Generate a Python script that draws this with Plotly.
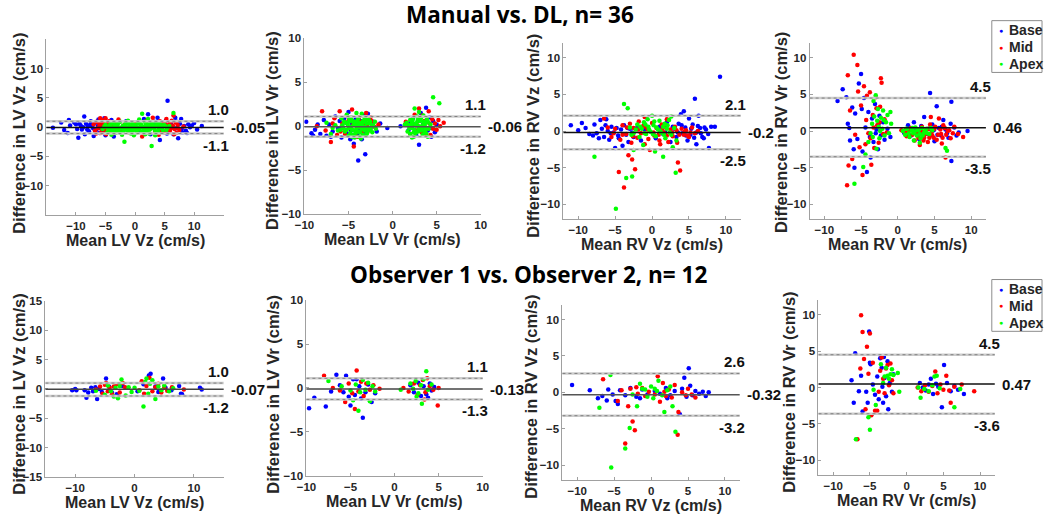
import plotly.graph_objects as go

# (mean, difference) pairs, per panel and slice level
# ---- Manual vs. DL ----
lv_vz_dl_base = [(-13.9, -0.1), (-12.0, -0.5), (-11.2, 1.2), (-11.4, -1.0), (-10.3, 0.8), (-10.0, 0.5), (-9.6, -1.8),
                 (-9.2, 0.3), (-9.0, -0.4), (-8.6, 1.8), (-8.5, -1.2), (-8.3, 0.6), (-8.0, 0.1), (-7.8, -0.7),
                 (-7.5, 1.0), (-7.3, 0.3), (-7.0, -1.5), (-6.8, 0.8), (-6.5, -0.3), (-6.2, 1.3), (-6.0, -1.0),
                 (-5.8, 0.5), (-5.5, -0.6), (-5.2, 1.5), (-5.0, -1.4), (-4.6, 0.9), (-4.3, -0.2), (-4.0, 1.2),
                 (-3.6, -1.6), (-3.2, 0.4), (-2.5, -0.9), (-1.5, 1.0), (0.5, -0.8), (1.5, 1.4), (2.2, 2.2),
                 (2.6, -1.2), (3.2, 0.9), (3.8, 1.6), (4.2, -2.2), (4.5, 0.3), (4.8, -0.8), (5.2, 1.1), (5.5, 4.5),
                 (5.8, -0.4), (6.1, 0.8), (6.5, -1.2), (6.8, 1.6), (7.0, -0.2), (7.3, -1.9), (7.6, 0.6), (7.8, 1.4),
                 (8.0, -0.9), (8.3, 0.2), (8.6, -0.6), (9.0, 0.5), (9.6, 0.3), (10.0, 0.7), (10.5, -0.4), (11.3, 0.2),
                 (-9.8, -0.3), (-9.4, 0.6), (-8.8, 0.0), (-8.1, -0.4), (-7.6, 0.4), (-7.1, -0.2), (-6.7, -0.8),
                 (-6.3, 0.2), (-5.9, -0.1), (-5.4, 0.4), (5.4, -1.1), (6.3, 0.1), (7.1, 0.9), (7.9, -0.3), (8.8, -1.0),
                 (9.3, 0.0), (-11.0, 0.3), (-12.5, 0.8)]
lv_vz_dl_mid = [(-7.0, 0.5), (-6.8, -0.6), (-6.5, 0.9), (-6.3, -0.2), (-6.0, 0.3), (-5.8, -1.0), (-5.6, 1.2),
                (-5.4, 0.6), (-5.2, -0.5), (-5.0, 1.5), (-4.9, -1.2), (-4.7, 0.2), (-4.5, -0.8), (-4.4, 1.0),
                (-4.2, -0.3), (-4.0, 0.5), (-3.8, -1.1), (-3.5, 0.8), (-3.2, -0.4), (-2.8, 1.3), (-2.4, -0.6),
                (-1.8, 0.4), (-1.0, -0.9), (0.2, 0.7), (1.2, -1.6), (2.0, 1.1), (2.5, -0.3), (3.0, 1.6), (3.4, -0.8),
                (3.7, 0.4), (4.0, -1.3), (4.2, 1.0), (4.5, -0.2), (4.8, 0.7), (5.0, -0.9), (5.3, 1.4), (5.6, 0.2),
                (5.9, -0.6), (6.2, 1.1), (6.5, 2.0), (6.7, -0.3), (7.0, -1.0), (7.2, 0.4), (7.5, -0.5), (8.2, 0.1),
                (-6.6, -1.1), (-6.1, 0.7), (-5.7, -0.3), (-5.3, 0.2), (-5.1, -0.9), (-4.8, 0.5), (-4.6, -0.1),
                (-4.3, 0.6), (-4.1, -0.8), (-3.9, 0.1), (-3.6, -0.5), (-3.4, 0.3), (4.1, 0.3), (4.4, -0.6), (4.7, 0.1),
                (5.1, 0.5), (5.5, -0.4), (5.8, 0.6), (6.1, -0.2), (6.4, 0.3), (6.9, 0.8), (7.3, -0.2), (-5.9, 1.5),
                (6.6, -1.2)]
lv_vz_dl_apex = [(-5.5, -0.3), (-5.0, 0.4), (-4.7, -0.9), (-4.4, 0.1), (-4.1, -0.5), (-3.8, 0.8), (-3.6, -0.2),
                 (-3.3, -1.0), (-3.0, 0.3), (-2.8, -0.6), (-2.5, 0.9), (-2.3, -0.1), (-2.0, -0.8), (-1.8, -2.5),
                 (-1.7, 0.5), (-1.5, -0.4), (-1.2, 1.1), (-1.0, 0.1), (-0.8, -0.7), (-0.5, 0.6), (-0.3, -0.3),
                 (0.0, 0.2), (0.3, -0.9), (0.5, 0.7), (0.8, -0.2), (1.0, 0.4), (1.2, 2.3), (1.4, -0.6), (1.6, 0.9),
                 (1.9, -0.1), (2.1, 0.5), (2.4, -1.1), (2.6, 0.2), (2.8, -3.2), (3.0, 0.8), (3.3, -0.4), (3.6, 0.3),
                 (3.9, -0.8), (4.2, 0.6), (4.5, -0.2), (4.9, 0.4), (5.3, -0.5), (5.8, 0.2), (6.5, 2.4), (-0.2, -1.4),
                 (0.7, 1.3), (-2.2, -1.3), (2.2, 1.4), (-4.0, -1.3), (3.4, -1.4),
                 (-4.8, 0.0), (-4.5, -0.4), (-4.2, 0.5), (-3.9, -0.1), (-3.7, -0.7), (-3.4, 0.3), (-3.1, -0.3),
                 (-2.9, 0.6), (-2.6, -0.2), (-2.4, -0.9), (-2.1, 0.2), (-1.9, -0.4), (-1.6, 0.0), (-1.3, -0.6),
                 (-1.1, 0.6), (-0.9, -0.2), (-0.6, 0.1), (-0.4, -0.6), (-0.1, 0.4), (0.1, -0.5), (0.4, 0.0),
                 (0.6, -0.4), (0.9, 0.5), (1.1, -0.8), (1.3, 0.1), (1.5, -0.2), (1.8, 0.3), (2.0, -0.6), (2.3, 0.1),
                 (2.5, -0.4), (2.7, 0.6), (2.9, -0.1), (3.2, 0.2), (3.5, -0.7), (3.7, 0.6), (4.0, -0.2), (4.3, 0.1),
                 (4.7, -0.5), (5.1, 0.2), (5.5, -0.1), (-5.2, 0.1), (-0.7, -1.1), (1.7, -1.2), (-3.5, 0.5)]

lv_vr_dl_base = [(-9.8, 0.5), (-9.2, -0.8), (-9.0, -1.1), (-8.8, -0.4), (-8.2, -0.9), (-7.8, 0.7), (-7.5, -1.1),
                 (-7.2, 0.2), (-6.8, -0.6), (-6.5, 1.1), (-6.2, -0.3), (-6.0, 0.6), (-5.8, -1.3), (-5.5, 0.9),
                 (-5.2, -0.8), (-5.0, 1.6), (-4.8, -1.5), (-4.6, 0.3), (-4.4, -2.0), (-4.2, 0.8), (-4.0, -1.0),
                 (-3.9, -3.9), (-3.7, -0.4), (-3.5, -1.5), (-3.3, 1.2), (-3.1, -3.2), (-3.0, -0.6), (-2.8, 1.4),
                 (-2.5, -0.2), (-2.2, 0.5), (-1.8, -0.6), (-1.4, 0.3), (-0.6, -0.2), (0.9, 0.0), (1.8, -0.5),
                 (2.3, 0.9), (2.7, -1.1), (3.0, -2.1), (3.2, 1.5), (3.5, 0.3), (3.8, 2.1), (4.0, -0.5), (4.2, 1.0),
                 (4.4, -0.2), (4.6, 0.6), (4.8, -0.7), (5.0, 0.2),
                 (-8.5, 0.2), (-7.0, -1.2), (-6.0, -0.2), (-5.3, 0.4), (-4.7, -0.5), (-4.1, 0.2), (-3.6, 0.6),
                 (-3.2, -0.9), (2.0, 0.4), (2.6, 0.1), (3.4, -0.4), (3.9, 0.6), (4.4, -1.2)]
lv_vr_dl_mid = [(-8.6, 0.0), (-8.0, 1.7), (-7.6, -0.5), (-7.0, -1.8), (-6.6, 0.9), (-6.3, -1.0), (-6.0, 1.7),
                (-5.7, 0.3), (-5.4, -0.9), (-5.2, 1.2), (-4.9, -0.2), (-4.6, 1.9), (-4.4, -2.3), (-4.2, 0.4),
                (-4.0, -1.2), (-3.8, 1.0), (-3.5, -0.7), (-3.2, 0.3), (-3.0, 1.5), (-2.7, -0.5), (-2.4, 0.6),
                (-2.0, -0.1), (-1.6, 0.2), (1.5, 0.5), (2.0, -0.9), (2.5, 1.3), (2.8, 0.1), (3.0, 2.0), (3.3, -0.7),
                (3.6, 0.6), (3.9, -0.3), (4.1, 1.7), (4.3, -1.0), (4.5, 0.8), (4.8, 0.3), (5.0, -0.4), (5.4, 0.0),
                (5.8, 0.4),
                (-6.8, 0.3), (-5.9, -0.6), (-5.0, 0.6), (-4.5, 0.1), (-3.6, 0.5), (-3.3, -1.1), (-2.9, 0.2),
                (-2.5, 1.0), (2.2, 0.2), (2.7, -0.5), (3.4, 1.2), (3.8, -0.9), (4.2, 0.3), (4.6, -0.3), (5.2, 0.7)]
lv_vr_dl_apex = [(-7.5, 0.4), (-7.0, -0.9), (-6.5, 0.1), (-6.2, -0.5), (-5.8, 0.9), (-5.6, -0.2), (-5.3, 0.4),
                 (-5.0, -1.1), (-4.8, 0.7), (-4.6, -0.4), (-4.4, 0.2), (-4.2, -0.8), (-4.0, 0.6), (-3.8, -0.1),
                 (-3.6, -1.4), (-3.4, 0.4), (-3.2, -0.5), (-3.0, 0.8), (-2.8, -0.2), (-2.6, 0.3), (-2.3, -0.7),
                 (-2.0, 0.5), (-4.1, 1.5), (-3.5, 1.4), (-5.2, 1.3), (-3.0, -1.0), (1.4, 0.2), (1.7, -0.6), (2.0, 0.7),
                 (2.2, -0.2), (2.4, 0.3), (2.6, -0.8), (2.8, 0.5), (3.0, -0.3), (3.2, 0.9), (3.4, 0.1), (3.6, -0.6),
                 (3.8, 0.4), (4.0, -1.2), (4.3, 0.2), (2.5, 2.0), (3.0, 1.6), (4.6, 3.3), (5.3, 2.6), (2.2, -1.3),
                 (3.5, 1.2),
                 (-5.9, -0.4), (-5.4, -0.6), (-5.1, 0.2), (-4.9, -0.2), (-4.7, 1.0), (-4.5, -1.0), (-4.3, 0.5),
                 (-4.1, -0.3), (-3.9, 0.9), (-3.7, -0.7), (-3.5, 0.1), (-3.3, -0.2), (-3.1, 0.5), (-2.9, -0.8),
                 (-2.7, 0.7), (-2.5, -0.4), (-2.2, 0.1), (-1.9, -0.3), (-4.8, -0.8), (-4.3, -1.3), (-3.9, 0.3),
                 (-3.2, 1.0), (-5.5, 0.5), (-6.8, -0.2), (1.6, 0.4), (1.9, -0.2), (2.1, 0.2), (2.3, 0.8), (2.5, -0.4),
                 (2.7, 0.1), (2.9, -0.6), (3.1, 0.6), (3.3, -0.2), (3.5, 0.5), (3.7, -0.1), (3.9, 0.8), (4.1, -0.3),
                 (2.0, -0.9), (2.8, 1.1), (3.4, -1.0), (2.4, -1.2), (3.8, -0.8),
                 (-5.7, 0.1), (-5.2, -0.4), (-4.95, 0.5), (-4.75, -0.1), (-4.55, 0.6), (-4.35, -0.5), (-4.15, 0.1),
                 (-3.95, -0.6), (-3.75, 0.4), (-3.55, -0.3), (-3.35, 0.6), (-3.15, -0.1), (-2.95, 0.3), (-2.75, -0.5),
                 (-2.55, 0.5), (-2.35, 0.0), (-4.6, -1.2), (-3.8, -1.2), (-3.4, -1.0), (-4.9, 0.9), (1.8, 0.1),
                 (2.2, 0.5), (2.6, 0.2), (3.0, 0.0), (3.2, -0.5), (3.6, 0.2), (4.0, 0.5), (2.4, -0.7), (2.9, 0.8),
                 (3.7, -0.4)]

rv_vz_dl_base = [(-11.0, 0.8), (-10.0, 0.1), (-9.5, 1.1), (-8.0, -0.6), (-7.8, 0.9), (-7.5, -0.3), (-7.0, 1.5),
                 (-6.8, 0.3), (-6.5, -0.8), (-6.2, 1.6), (-6.0, 0.0), (-5.8, -1.2), (-5.5, 0.6), (-5.2, -0.2),
                 (-5.0, -2.3), (-4.8, 0.4), (-4.5, -1.0), (-4.2, 0.2), (-4.0, -2.0), (-3.8, 0.8), (-3.5, -0.5),
                 (-3.2, -1.5), (-3.0, 0.3), (-2.5, -0.8), (-2.0, 0.5), (-1.5, -1.3), (-1.0, 0.2), (0.5, -1.0),
                 (1.0, 0.6), (1.5, -0.4), (2.0, 1.2), (2.5, -1.5), (3.0, 0.3), (3.3, -0.8), (3.6, 1.0), (3.9, 2.3),
                 (4.1, -0.3), (4.3, 2.7), (4.5, 0.5), (4.8, -1.3), (5.0, 1.7), (5.2, -0.5), (5.5, 0.9), (5.8, 4.4),
                 (6.0, -0.2), (6.3, 2.1), (6.5, 0.4), (6.8, -0.8), (7.0, -1.0), (7.3, 0.2), (7.6, -0.4), (8.0, 0.6),
                 (8.5, 0.6), (7.7, -2.3), (9.2, 7.4), (6.0, -1.8),
                 (-9.0, 0.4), (-8.5, -0.4), (-7.2, -1.0), (-6.3, 0.8), (-5.6, -0.3), (-4.6, -0.6), (-3.3, 0.4),
                 (-2.7, -0.2), (1.8, -0.2), (2.8, 0.6), (3.5, -0.2), (4.0, 0.8), (4.6, -0.6), (5.3, 0.3), (5.7, -0.9),
                 (6.2, 0.7), (6.6, -0.3), (7.1, 0.5)]
rv_vz_dl_mid = [(-6.5, 1.7), (-6.0, 0.5), (-5.5, -0.8), (-5.0, 0.3), (-4.5, -5.6), (-4.3, -1.2), (-4.0, 0.8),
                (-3.8, -7.7), (-3.5, -0.4), (-3.2, -3.3), (-3.0, 1.0), (-2.8, -1.6), (-2.7, -3.9), (-2.5, 0.4),
                (-2.3, -5.2), (-2.0, -0.9), (-1.8, 1.3), (-1.5, -0.3), (-1.2, 0.7), (-1.0, -1.8), (-0.6, 0.2),
                (-0.3, -2.6), (0.0, 1.1), (0.3, -0.6), (0.6, 0.4), (1.0, -1.3), (1.3, 0.9), (1.6, -0.2), (1.9, 0.5),
                (2.2, -1.5), (2.5, 0.2), (2.8, -0.7), (3.1, 0.6), (3.4, -1.6), (3.5, -4.3), (3.8, -5.4), (4.0, 0.3),
                (4.3, -0.5), (4.6, 0.1), (5.0, -0.8), (5.4, 0.5), (5.8, -0.3), (6.2, 0.0), (2.0, 1.6), (-1.0, 1.9),
                (-5.2, -0.3), (-4.0, -0.5), (-3.4, 0.5), (-2.6, -0.7), (-1.9, 0.2), (-0.9, 0.6), (0.2, -0.2),
                (0.9, -0.5), (1.4, 0.3), (2.0, -0.6), (2.7, -0.2), (3.3, 0.1), (3.7, -0.5), (4.4, -0.1), (4.8, -0.6),
                (5.2, -0.2), (1.1, -1.8), (-0.5, -1.1)]
rv_vz_dl_apex = [(-7.8, -3.5), (-4.9, -10.6), (-3.8, 3.7), (-3.3, 3.1), (-3.5, -6.4), (-2.7, -6.2), (3.2, -5.7),
                 (1.5, -3.5), (-2.5, -2.6), (-3.0, 0.5), (-2.5, -0.3), (-2.0, 0.9), (-1.7, -0.8), (-1.4, 0.3),
                 (-1.1, 1.2), (-0.8, -0.4), (-0.5, 0.6), (-0.2, -0.1), (0.0, 2.1), (0.2, 0.8), (0.5, -0.7), (0.8, 0.2),
                 (1.0, 1.4), (1.2, -0.2), (1.5, 0.6), (1.8, -1.0), (2.0, 0.3), (2.3, 1.5), (2.6, -0.5), (2.8, -2.2),
                 (3.0, 0.4), (3.3, -1.3), (0.4, -2.8), (-1.2, -1.9), (2.6, 2.0), (-0.6, 1.6), (1.7, 1.0),
                 (-2.8, -0.5), (-2.2, 0.2), (-1.6, 0.6), (-1.0, -0.3), (-0.4, 0.2), (0.1, -0.4), (0.6, 0.5),
                 (1.1, 0.0), (1.6, -0.5), (2.1, 0.8), (2.4, -0.2), (0.3, 1.3), (-0.9, 0.9)]

rv_vr_dl_base = [(-8.2, 4.1), (-7.5, 5.7), (-7.0, 4.6), (-6.8, 1.0), (-6.6, 0.4), (-6.5, -1.3), (-6.2, 3.2),
                 (-6.0, -2.5), (-5.9, -5.0), (-5.8, 2.4), (-5.5, -1.1), (-5.3, 6.5), (-5.0, 7.8), (-4.9, 3.0),
                 (-4.8, -2.8), (-4.6, 4.5), (-4.4, 0.5), (-4.2, -5.6), (-4.0, 2.6), (-3.8, -0.8), (-3.7, -3.6),
                 (-3.5, 1.7), (-3.3, -1.5), (-3.1, 3.7), (-2.9, 0.2), (-2.7, -2.5), (-2.5, 2.1), (-2.3, -0.6),
                 (-2.0, 1.2), (-1.8, -1.2), (-1.4, 0.3), (-1.0, -0.8), (0.9, -0.3), (1.4, 0.8), (1.8, -0.6),
                 (2.2, 1.2), (2.5, 0.3), (2.9, -1.1), (3.2, 0.7), (3.6, 1.9), (4.0, -0.4), (4.4, 5.2), (4.7, 0.9),
                 (5.0, -1.4), (5.3, 3.4), (5.6, 0.4), (5.9, -0.6), (6.2, 1.5), (6.5, 0.2), (6.9, -0.9), (7.3, 4.0),
                 (7.3, -4.1), (7.7, 0.5), (8.3, -0.2), (9.5, 0.0),
                 (2.0, 0.2), (2.7, -0.4), (3.4, -0.3), (4.2, 0.3), (4.9, 0.1), (5.4, -0.5), (6.0, 0.6), (6.7, -0.3),
                 (7.2, 1.0), (8.0, -0.6), (-3.0, -0.3), (-2.6, 1.0)]
rv_vr_dl_mid = [(-6.9, -7.4), (-6.8, 7.6), (-6.7, -4.7), (-6.5, 2.8), (-6.2, -3.8), (-6.0, 10.4), (-5.8, -0.5),
                (-5.5, 9.0), (-5.4, 5.4), (-5.2, -2.2), (-5.0, 3.5), (-4.8, -6.0), (-4.6, 6.1), (-4.4, -1.8),
                (-4.2, 4.8), (-4.0, -0.3), (-3.8, 5.3), (-3.6, -4.6), (-3.4, 2.2), (-3.2, -2.3), (-3.0, 4.6),
                (-2.8, 0.8), (-2.6, -1.6), (-2.4, 3.3), (-2.3, 7.2), (-2.2, 6.6), (-2.0, -0.4), (-1.8, 1.6),
                (-1.5, -0.2), (0.5, 0.1), (1.2, -0.7), (1.8, 0.4), (2.3, -1.3), (2.6, -0.2), (3.0, -1.9), (3.3, 0.6),
                (3.6, -0.9), (3.9, 0.2), (4.1, -1.5), (4.4, 0.9), (4.7, -0.6), (5.0, 0.3), (5.3, -1.2), (5.6, 1.7),
                (5.9, -0.4), (6.2, 0.8), (6.5, -3.6), (6.8, 0.0), (7.2, -1.0), (7.7, 0.6), (8.2, -0.4), (8.9, -0.8),
                (6.0, -1.7), (4.5, 1.9),
                (1.0, -0.2), (1.5, 0.0), (2.0, -0.5), (2.8, -0.9), (3.2, -0.1), (3.5, -1.3), (3.8, -0.4), (4.2, 0.3),
                (4.3, -0.9), (4.6, -0.2), (4.9, -0.9), (5.1, 0.6), (5.5, -0.5), (5.8, 0.2), (6.1, -0.9), (6.4, 0.4),
                (6.6, -0.5), (7.0, 0.1), (7.5, -0.3), (-3.3, 0.5), (-2.9, 3.1), (-2.5, 1.2), (-3.7, -1.0), (-4.3, 1.5)]
rv_vr_dl_apex = [(-5.9, -7.2), (-4.7, -4.9), (-4.4, -3.2), (-4.0, -1.5), (-3.7, -0.3), (-3.5, 1.0), (-3.2, 2.0),
                 (-3.0, 4.9), (-2.9, -2.4), (-2.7, 3.0), (-2.6, 0.6), (-2.5, -1.0), (-2.3, 1.8), (-2.1, 0.3),
                 (-2.0, 2.8), (-1.8, -0.6), (-1.6, 1.2), (-1.4, 2.2), (-1.2, -0.3), (-0.9, 1.0), (-1.0, 2.6),
                 (0.7, 0.0), (1.0, -0.5), (1.3, 0.3), (1.6, -0.8), (1.9, 0.1), (2.1, -0.3), (2.4, 0.5), (2.6, -0.6),
                 (2.9, 0.2), (3.1, -1.0), (3.3, 0.4), (3.6, -0.2), (3.9, 0.3), (4.3, -0.4), (4.7, 0.1), (6.7, -2.7),
                 (6.5, -2.3), (2.2, -1.3), (3.0, -1.6), (-3.3, 4.1),
                 (1.1, 0.3), (1.5, -0.3), (2.0, 0.4), (2.3, -0.1), (2.7, 0.1), (3.0, -0.4), (3.4, -0.6), (3.7, 0.0),
                 (4.0, -0.3), (4.5, 0.4), (-2.4, 0.0), (-1.9, 1.5), (-2.8, 1.4), (-3.4, -0.8)]

# ---- Observer 1 vs. Observer 2 ----
lv_vz_obs_base = [(-10.5, -0.2), (-10.0, 0.0), (-9.8, -0.2), (-8.4, -0.2), (-8.1, -1.5), (-7.8, -0.6), (-7.3, 0.2),
                  (-7.0, -0.4), (-6.6, 0.3), (-6.3, -1.7), (-6.0, 0.0), (-5.5, -0.5), (-4.8, 1.8), (-4.3, 0.4),
                  (-3.8, -0.6), (-3.0, -0.9), (-2.0, 0.5), (0.5, -0.4), (1.5, 0.8), (2.4, 2.3), (2.7, 2.6), (3.5, 0.4),
                  (4.0, -0.5), (4.8, 1.8), (5.2, 0.2), (6.2, -0.2), (7.5, 0.5), (7.8, -0.8), (8.0, -0.9), (11.0, 0.2),
                  (11.3, -0.1)]
lv_vz_obs_mid = [(-6.5, -0.1), (-5.8, 0.4), (-5.4, -0.8), (-5.0, 0.7), (-4.8, 1.0), (-4.5, -0.4), (-4.2, 0.2),
                 (-3.8, -0.9), (-3.5, 0.4), (-3.0, 0.8), (-2.5, -0.6), (-2.0, 1.0), (-1.6, 0.3), (0.8, -0.2),
                 (1.2, 1.3), (1.6, -0.8), (2.0, 0.5), (2.5, 1.9), (3.0, -0.4), (3.5, 0.3), (4.0, 0.9), (4.5, -0.6),
                 (5.0, 0.2), (5.5, -0.3), (6.3, 0.3), (8.3, -0.1)]
lv_vz_obs_apex = [(-6.5, -0.3), (-5.0, -1.0), (-4.5, 0.6), (-4.0, -0.4), (-3.5, -1.3), (-3.2, 0.2), (-2.8, -1.6),
                  (-2.5, 0.5), (-2.2, 1.6), (-1.5, -1.1), (-1.0, 0.3), (-0.5, -0.5), (0.0, 0.2), (0.8, -0.3),
                  (1.5, -3.0), (1.8, 1.2), (2.0, 1.8), (2.3, -0.8), (2.6, 0.9), (3.0, 1.5), (3.5, -1.7), (4.0, 0.4),
                  (4.5, -0.2), (5.0, 0.6), (5.8, -0.4), (6.5, 0.1)]

lv_vr_obs_base = [(-9.7, -2.3), (-9.1, -1.1), (-7.8, -2.1), (-7.2, -0.4), (-6.6, 1.5), (-6.2, 0.3), (-5.8, -0.5),
                  (-5.5, 1.4), (-5.2, -1.0), (-5.0, -2.0), (-4.7, 1.0), (-4.5, -0.8), (-4.3, 1.0), (-4.0, 0.2),
                  (-3.8, -1.2), (-3.6, -3.4), (-3.3, -0.5), (-3.0, 0.4), (-2.6, -1.6), (-2.2, -0.6), (1.8, 0.3),
                  (2.2, -0.5), (2.7, 0.6), (3.0, -0.9), (3.3, 0.2), (3.6, -0.7), (4.0, 0.5), (4.2, -0.3), (4.5, 0.1),
                  (3.8, -1.1)]
lv_vr_obs_mid = [(-8.0, 1.4), (-7.0, 0.0), (-6.2, -0.3), (-5.6, -1.6), (-5.2, 0.5), (-4.8, -0.6), (-4.5, -2.4),
                 (-4.3, 2.0), (-4.1, -0.4), (-3.8, 0.7), (-3.5, -0.9), (-3.2, 0.5), (-2.8, -0.2), (-2.4, 0.3),
                 (-1.7, -0.1), (1.0, 0.0), (1.6, -0.4), (2.2, 0.5), (2.6, -0.8), (2.9, 0.3), (3.2, 0.9), (3.5, -0.5),
                 (3.7, 1.1), (4.0, 0.2), (4.4, -0.2), (4.9, -2.0), (5.0, 0.0), (3.4, -1.3)]
lv_vr_obs_apex = [(-7.5, 0.8), (-6.0, 0.2), (-5.0, -0.3), (-4.7, -1.4), (-4.4, 0.4), (-4.1, -2.6), (-3.9, -0.5),
                  (-3.6, 0.9), (-3.3, -0.2), (-3.0, 0.6), (-2.8, -1.5), (-2.5, 0.2), (-2.2, -0.4), (0.7, -0.2),
                  (1.8, 0.5), (2.1, -0.1), (2.4, 0.8), (2.7, -0.6), (3.0, 0.3), (3.1, -1.8), (3.3, 1.0), (3.6, 1.9),
                  (3.8, -0.2), (4.2, 0.4), (2.5, -1.0)]

rv_vz_obs_base = [(-10.7, 1.0), (-8.3, 0.3), (-7.2, -0.8), (-6.6, -0.5), (-6.0, -1.1), (-5.8, 0.4), (-5.2, -0.3),
                  (-4.8, -1.2), (-4.5, -1.6), (-4.2, 0.3), (-3.5, -0.4), (-2.8, 0.6), (-2.0, -0.6), (-1.2, 0.4),
                  (-0.5, -0.3), (0.5, 0.2), (1.2, -0.2), (2.0, 0.6), (2.6, -0.4), (3.2, 0.2), (3.9, -3.0), (4.2, 0.5),
                  (4.5, 2.0), (4.8, -0.6), (5.1, 3.3), (5.3, 0.9), (5.6, -0.4), (6.0, 0.2), (6.5, -0.2), (7.0, 0.1),
                  (7.4, -0.5), (7.8, 0.0), (2.2, -0.8), (-1.5, -0.8)]
rv_vz_obs_mid = [(-6.5, 1.8), (-4.5, -1.2), (-4.0, 0.3), (-3.5, -7.0), (-3.1, -1.9), (-2.8, 0.5), (-2.5, -4.0),
                 (-2.2, -5.2), (-1.8, -0.2), (-1.2, 0.6), (-0.8, -0.5), (-0.3, 0.1), (0.5, -0.3), (0.9, 2.2),
                 (1.2, -1.3), (1.6, 1.3), (2.0, -0.5), (2.4, 0.4), (2.8, -0.7), (3.2, 1.0), (3.6, -5.8), (3.7, -2.7),
                 (4.2, 0.0), (4.7, -0.4), (5.0, 0.5), (5.5, -0.3), (6.0, -0.7), (1.8, 0.1), (-2.0, 0.7)]
rv_vz_obs_apex = [(-5.5, 2.4), (-5.4, -10.3), (-7.0, -2.1), (-3.5, -7.7), (-2.9, -4.9), (-1.9, -1.9), (-1.5, 1.2),
                  (-1.2, 0.5), (-0.5, -0.6), (0.0, 0.8), (0.3, -0.8), (0.8, 0.2), (1.0, 1.6), (1.5, -0.4),
                  (1.8, -2.7), (2.2, 0.3), (2.6, 0.8), (2.9, -1.9), (3.3, -5.4), (-2.5, -0.3), (-0.8, 0.4), (0.5, 0.5)]

rv_vr_obs_base = [(-7.5, 1.0), (-7.2, -2.1), (-7.0, 4.7), (-6.5, -0.5), (-6.2, 1.6), (-6.0, -3.3), (-5.5, -0.6),
                  (-5.3, -2.1), (-5.1, 7.7), (-5.0, 3.4), (-4.9, 3.2), (-4.6, 0.4), (-4.3, -1.0), (-4.0, 1.5),
                  (-3.8, -1.6), (-3.6, 4.0), (-3.4, 2.7), (-3.3, 0.1), (-3.2, -2.1), (-3.1, 4.2), (-3.0, 1.3),
                  (-2.8, -1.2), (-2.6, 3.6), (-2.5, -3.0), (-2.3, 0.6), (-2.0, -0.6), (-1.8, 1.8), (1.8, 0.6),
                  (2.2, 0.0), (2.6, -0.4), (3.0, 0.4), (3.3, 1.2), (3.6, -0.9), (4.0, 0.5), (4.3, 0.1), (4.8, -2.7),
                  (5.1, 3.1), (5.5, 0.6), (6.0, -0.5), (6.5, 0.2), (7.0, -0.3), (7.8, -0.9)]
rv_vr_obs_mid = [(-6.7, -7.1), (-6.3, 2.6), (-6.2, 9.9), (-6.0, 7.6), (-5.8, 3.9), (-5.6, -3.0), (-5.4, 5.6),
                 (-5.2, 1.9), (-5.0, 7.4), (-4.8, -3.8), (-4.6, 3.4), (-4.3, -3.2), (-4.0, -3.2), (-3.8, -0.6),
                 (-3.6, 2.3), (-3.4, 4.1), (-3.2, 1.2), (-3.0, -0.8), (-2.8, 2.6), (-2.6, 3.1), (-2.4, 0.3),
                 (-2.2, 3.3), (-2.0, 1.0), (-1.8, -0.8), (1.5, 0.0), (2.0, -0.5), (2.5, 0.3), (3.0, -0.6), (3.5, 0.2),
                 (3.9, 2.2), (4.2, -0.8), (4.6, 0.4), (5.0, -0.3), (5.4, 1.6), (5.8, -0.4), (6.0, -2.1), (6.5, 0.1),
                 (7.5, 0.4), (9.2, -0.5)]
rv_vr_obs_apex = [(-6.9, -7.1), (-5.2, -4.1), (-5.0, -5.8), (-4.5, -0.3), (-4.2, -2.4), (-3.2, 0.6), (-3.0, 1.5),
                  (-2.8, 2.7), (-2.6, 1.6), (-2.4, 1.2), (-2.2, 1.8), (-2.0, 2.5), (-1.8, 1.7), (-1.2, 2.0),
                  (-1.0, -0.6), (-3.5, 3.2), (1.6, 0.0), (1.9, -1.4), (2.4, -0.2), (3.0, -0.5), (3.5, 0.3), (3.8, 1.5),
                  (4.1, 1.6), (4.5, -0.1), (6.5, -2.7), (7.3, -0.2)]

# bias and limits of agreement, one per panel (row by row)
upper_loa = [1.0, 1.1, 2.1, 4.5, 1.0, 1.1, 2.6, 4.5]
bias = [-0.05, -0.06, -0.2, 0.46, -0.07, -0.13, -0.32, 0.47]
lower_loa = [-1.1, -1.2, -2.5, -3.5, -1.2, -1.3, -3.2, -3.6]
upper_txt = ['1.0', '1.1', '2.1', '4.5', '1.0', '1.1', '2.6', '4.5']
bias_txt = ['-0.05', '-0.06', '-0.2', '0.46', '-0.07', '-0.13', '-0.32', '0.47']
lower_txt = ['-1.1', '-1.2', '-2.5', '-3.5', '-1.2', '-1.3', '-3.2', '-3.6']

levels = ['Base', 'Mid', 'Apex']
level_colors = ['#0000ff', '#ff0000', '#00ff00']
measures = ['LV Vz', 'LV Vr', 'RV Vz', 'RV Vr']
row_titles = ['Manual vs. DL, n= 36', 'Observer 1 vs. Observer 2, n= 12']

panel_data = [
    [lv_vz_dl_base, lv_vz_dl_mid, lv_vz_dl_apex],
    [lv_vr_dl_base, lv_vr_dl_mid, lv_vr_dl_apex],
    [rv_vz_dl_base, rv_vz_dl_mid, rv_vz_dl_apex],
    [rv_vr_dl_base, rv_vr_dl_mid, rv_vr_dl_apex],
    [lv_vz_obs_base, lv_vz_obs_mid, lv_vz_obs_apex],
    [lv_vr_obs_base, lv_vr_obs_mid, lv_vr_obs_apex],
    [rv_vz_obs_base, rv_vz_obs_mid, rv_vz_obs_apex],
    [rv_vr_obs_base, rv_vr_obs_mid, rv_vr_obs_apex],
]

# layout (pixels): axis box left, right, top, bottom
W, H = 1050, 520
boxes = [(37, 217, 34, 214), (299, 478, 33, 213), (562, 742, 38, 218), (812, 991, 38, 218),
         (36, 217, 302, 482), (301, 480, 301, 481), (561, 741, 306, 485), (821, 1000, 301, 480)]
ytitle_pos = [(9, 130), (266, 127), (531, 133), (783, 130), (9, 397), (267, 397), (529, 400), (791, 395)]
title_pos = [(518, 9), (527, 275)]
legend_tops = [15, 280]
bias_colors = ['#111111', '#555555', '#111111', '#111111', '#444444', '#444444', '#555555', '#111111']
half_range = [15, 10, 12, 12, 15, 10, 12, 12]
x_ticks = [[-10, -5, 0, 5, 10]] * 4 + [[-10, 0, 10], [-10, -5, 0, 5, 10], [-10, -5, 0, 5, 10], [-10, -5, 0, 5, 10]]
y_ticks = [[-10, -5, 0, 5, 10]] * 4 + [[-15, -10, -5, 0, 5, 10, 15]] + [[-10, -5, 0, 5, 10]] * 3

FONT = 'Liberation Sans, Arial, sans-serif'
TXT = '#262626'
AX = '#a0a0a0'

fig = go.Figure()
annotations = []
shapes = []

for i in range(8):
    n = '' if i == 0 else str(i + 1)
    xa, ya = f'x{n}', f'y{n}'
    l, r, t, b = boxes[i]
    for j in range(3):
        pts = panel_data[i][j]
        fig.add_trace(go.Scatter(
            x=[p[0] for p in pts], y=[p[1] for p in pts], mode='markers',
            marker=dict(color=level_colors[j], size=4.5),
            name=levels[j], xaxis=xa, yaxis=ya, showlegend=False))

    ax_common = dict(showline=True, linecolor=AX, linewidth=1, ticks='inside', ticklen=3, tickcolor=AX,
                     showgrid=False, zeroline=False, mirror=False,
                     tickfont=dict(family=FONT, size=11.5, color=TXT, weight='bold'))
    fig.update_layout(**{
        f'xaxis{n}': dict(domain=[l / W, r / W], anchor=ya, range=[-half_range[i], half_range[i]],
                          tickvals=x_ticks[i], **ax_common),
        f'yaxis{n}': dict(domain=[1 - b / H, 1 - t / H], anchor=xa, range=[-half_range[i], half_range[i]],
                          tickvals=y_ticks[i], **ax_common),
    })

    # limits of agreement (gray dashed) and bias (solid)
    for v in (upper_loa[i], lower_loa[i]):
        shapes.append(dict(type='line', xref=f'{xa} domain', yref=ya, x0=0, x1=1, y0=v, y1=v,
                           line=dict(color='#cccccc', width=2.5)))
        shapes.append(dict(type='line', xref=f'{xa} domain', yref=ya, x0=0, x1=1, y0=v, y1=v,
                           line=dict(color='#808080', width=1, dash='dot')))
    shapes.append(dict(type='line', xref=f'{xa} domain', yref=ya, x0=0, x1=1, y0=bias[i], y1=bias[i],
                       line=dict(color=bias_colors[i], width=1.5)))

    lab_font = dict(family=FONT, size=15, color='#111111', weight='bold')
    annotations.append(dict(xref='paper', yref=ya, x=(r + 7) / W, y=upper_loa[i], text=upper_txt[i],
                            xanchor='right', yanchor='bottom', yshift=1, showarrow=False, font=lab_font))
    annotations.append(dict(xref='paper', yref=ya, x=(r + 5) / W, y=bias[i], text=bias_txt[i],
                            xanchor='left', yanchor='middle', showarrow=False, font=lab_font))
    annotations.append(dict(xref='paper', yref=ya, x=(r + 7) / W, y=lower_loa[i], text=lower_txt[i],
                            xanchor='right', yanchor='top', yshift=-1, showarrow=False, font=lab_font))

    # axis titles
    annotations.append(dict(xref='paper', yref='paper', x=(l + r) / 2 / W, y=1 - (b + 26) / H,
                            text='Mean ' + measures[i % 4] + ' (cm/s)', xanchor='center', yanchor='middle',
                            showarrow=False, font=dict(family=FONT, size=16, color=TXT, weight='bold')))
    tx, ty = ytitle_pos[i]
    annotations.append(dict(xref='paper', yref='paper', x=tx / W, y=1 - ty / H,
                            text='Difference in ' + measures[i % 4] + ' (cm/s)', textangle=-90,
                            xanchor='center', yanchor='middle', showarrow=False,
                            font=dict(family=FONT, size=16.5, color=TXT, weight='bold')))

for k, (tx, ty) in enumerate(title_pos):
    annotations.append(dict(xref='paper', yref='paper', x=tx / W, y=1 - ty / H, text=row_titles[k],
                            xanchor='center', yanchor='middle', showarrow=False,
                            font=dict(family='Open Sans, sans-serif', size=22.5, color='#000000', weight='bold')))

# legend boxes (one per row) next to the RV Vr panels
for top in legend_tops:
    shapes.append(dict(type='rect', xref='paper', yref='paper', x0=997 / W, x1=1048 / W,
                       y0=1 - (top + 53) / H, y1=1 - top / H,
                       line=dict(color='#8c8c8c', width=1), fillcolor='white', layer='above'))
    for j in range(3):
        yy = 1 - (top + 10 + 17 * j) / H
        annotations.append(dict(xref='paper', yref='paper', x=1006 / W, y=yy, text='●',
                                xanchor='center', yanchor='middle', showarrow=False,
                                font=dict(family=FONT, size=7, color=level_colors[j])))
        annotations.append(dict(xref='paper', yref='paper', x=1012 / W, y=yy, text=levels[j],
                                xanchor='left', yanchor='middle', showarrow=False,
                                font=dict(family=FONT, size=14, color=TXT, weight='bold')))

fig.update_layout(
    width=W, height=H,
    margin=dict(l=0, r=0, t=0, b=0),
    plot_bgcolor='white', paper_bgcolor='white',
    shapes=shapes, annotations=annotations,
    showlegend=False,
)

fig.write_html("out.html", config={'displayModeBar': False},
               post_script="document.body.style.margin='0';")
